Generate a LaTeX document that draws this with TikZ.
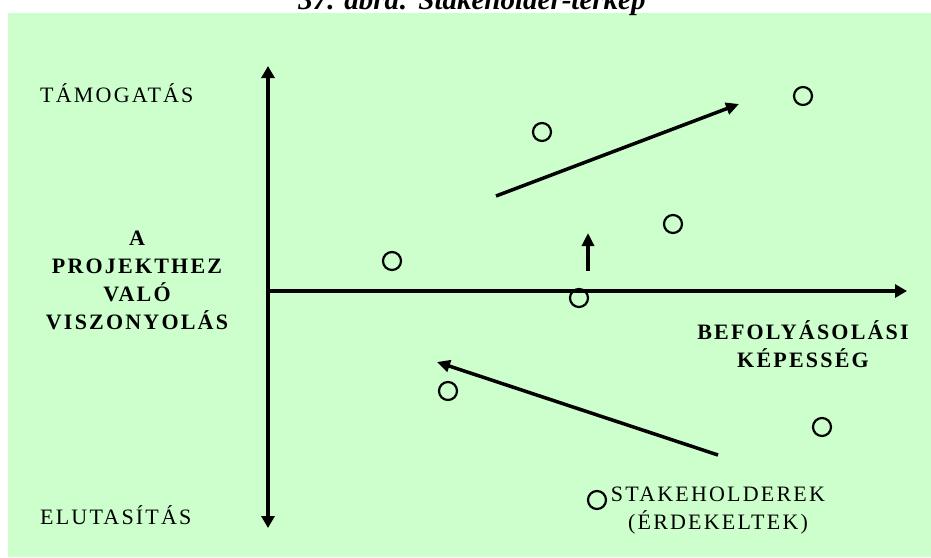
\documentclass[tikz,border=0pt]{standalone}
\usepackage{fontspec}
\setmainfont{Liberation Serif}
\newfontfamily\labelfont[LetterSpace=10]{Liberation Serif}
\usepackage{xcolor}
\usetikzlibrary{arrows.meta, positioning}
\definecolor{mapgreen}{HTML}{CCFFCC}

\begin{document}
\begin{tikzpicture}[
    x=1pt, y=-1pt,
    axis/.style={line width=4pt, -{Triangle[length=12pt, width=13pt]}},
    trend/.style={line width=3.5pt, -{Triangle[length=13pt, width=12pt]}},
    holder/.style={circle, draw, line width=2.2pt, minimum size=18pt, inner sep=0pt},
    lbl/.style={font=\labelfont\fontsize{22}{28}\selectfont, inner sep=0pt, align=center},
    blbl/.style={lbl, font=\labelfont\bfseries\fontsize{22}{28}\selectfont}
]
\useasboundingbox (0,0) rectangle (931,557);
\fill[mapgreen] (8,13) rectangle (931,557);

% title, cut by the page edge
\node[anchor=base, font=\bfseries\itshape\fontsize{29}{32}\selectfont] (title) at (472,9) {37. ábra: Stakeholder-térkép};

% axes
\coordinate (o) at (268,291);
\coordinate (top) at (268,66);
\coordinate (bot) at (268,528);
\coordinate (right) at (907,291);
\draw[axis] (o) -- (top);
\draw[axis] (o) -- (bot);
\draw[axis] ([xshift=-2pt]o) -- (right);

% axis labels
\node[lbl, anchor=west] (pro) at (40,93) {TÁMOGATÁS};
\node[lbl, anchor=west] (con) at (40,515) {ELUTASÍTÁS};
\node[blbl] (rel) at (137,280) {A\\PROJEKTHEZ\\VALÓ\\VISZONYOLÁS};
\node[blbl] (infl) at (803,344) {BEFOLYÁSOLÁSI\\KÉPESSÉG};

% stakeholders
\node[holder] (s1) at (542,132) {};
\node[holder] (s2) at (803,96) {};
\node[holder] (s3) at (673,224) {};
\node[holder] (s4) at (392,261) {};
\node[holder] (s5) at (579,298) {};
\node[holder] (s6) at (448,391) {};
\node[holder] (s7) at (822,427) {};
\node[holder] (key) at (597,500) {};
\node[lbl] (keytext) at (718,511) {STAKEHOLDEREK\\(ÉRDEKELTEK)};

% movements
\coordinate (up1) at (496,196);
\coordinate (up2) at (739,104);
\coordinate (left1) at (718,455);
\coordinate (left2) at (437,362);
\coordinate (rise1) at (588,271);
\coordinate (rise2) at (588,233);
\draw[trend] (up1) -- (up2);
\draw[trend] (left1) -- (left2);
\draw[trend, line width=4pt] (rise1) -- (rise2);

\end{tikzpicture}
\end{document}
